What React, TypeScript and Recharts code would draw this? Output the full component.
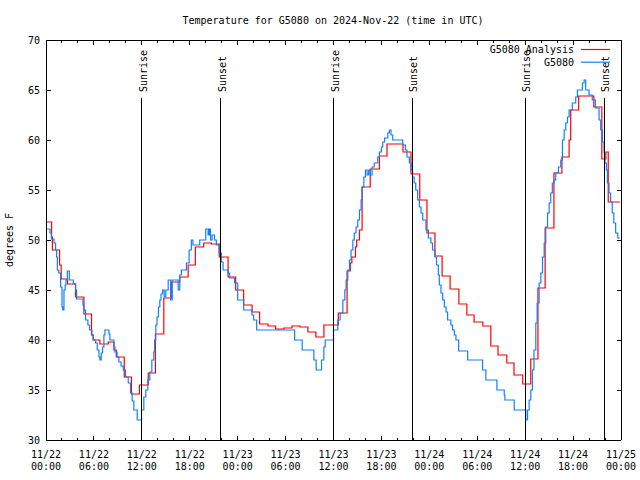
import React from 'react';
import { LineChart, Line, XAxis, YAxis, ReferenceLine, Legend } from 'recharts';

// hours since 2024-11-22 00:00 UTC, temperature (deg F)
const redReadings: [number, number][] = [
  [0, 51.8], [0.7, 50.3], [0.8, 49.0], [1.7, 47.5], [1.9, 46.1], [2.7, 45.6], [3.7, 44.3], [4.75, 42.6],
  [5.7, 40.5], [5.9, 40.0], [6.75, 39.6], [7.8, 39.8], [8.5, 39.0], [8.8, 38.3], [9.8, 36.3], [10.7, 34.6],
  [11.7, 35.5], [12.8, 36.7], [13.7, 40.6], [14.75, 44.2], [15.75, 45.8], [16.75, 46.3], [17.8, 47.5],
  [18.7, 49.3], [19.75, 49.7], [20.7, 49.6], [21.7, 48.3], [22.8, 46.3], [23.75, 45.0], [24.75, 43.5],
  [25.8, 42.8], [26.75, 41.6], [27.8, 41.4], [28.75, 41.1], [29.8, 41.2], [30.8, 41.4], [31.8, 41.3],
  [32.8, 40.8], [33.8, 40.3], [34.8, 41.5], [36.6, 42.7], [37.7, 46.9], [38.1, 47.7], [38.3, 48.3],
  [38.75, 49.3], [38.9, 50.0], [39.25, 51.0], [39.58, 55.3], [40.6, 57.1], [41.75, 58.4], [42.7, 59.6],
  [44.7, 58.8], [45.7, 56.6], [46.8, 54.0], [47.7, 50.7], [48.7, 48.4], [49.6, 46.4], [50.6, 45.1],
  [51.7, 43.6], [52.7, 42.5], [53.6, 41.8], [54.7, 41.4], [55.7, 39.4], [56.6, 38.5], [57.7, 37.7],
  [58.6, 36.5], [59.7, 35.6], [60.7, 38.1], [61.6, 45.2], [62.5, 51.2], [63.6, 56.7], [64.6, 58.3],
  [65.5, 60.0], [65.7, 63.0], [66.7, 64.4], [68.6, 63.3], [69.6, 58.1], [70.1, 58.8], [70.4, 53.8],
  [71.85, 53.8],
];

const blueReadings: [number, number][] = [
  [0, 51.1], [0.5, 50.7], [0.67, 50.1], [1.0, 49.7], [1.2, 49.0], [1.33, 48.3], [1.42, 47.0], [1.6, 46.7],
  [1.83, 45.3], [2.0, 43.3], [2.1, 43.0], [2.25, 45.0], [2.4, 45.5], [2.5, 46.0], [2.67, 46.9], [2.92, 46.0],
  [3.42, 45.6], [3.71, 45.0], [3.83, 44.1], [4.63, 43.5], [4.75, 43.0], [4.96, 42.0], [5.25, 41.5],
  [5.46, 41.0], [5.75, 40.5], [5.92, 40.0], [6.21, 39.7], [6.42, 39.0], [6.63, 38.3], [6.75, 38.0],
  [6.92, 38.7], [7.08, 39.3], [7.25, 40.5], [7.38, 41.0], [7.88, 40.6], [8.0, 40.0], [8.5, 39.3],
  [8.63, 38.8], [8.9, 38.3], [9.13, 37.8], [9.4, 37.4], [9.67, 37.0], [9.96, 36.3], [10.3, 35.7],
  [10.58, 34.7], [10.79, 33.9], [11.0, 33.0], [11.42, 32.0], [11.96, 33.0], [12.25, 34.3], [12.5, 35.0],
  [12.75, 36.0], [13.0, 36.8], [13.25, 38.0], [13.5, 38.8], [13.6, 40.0], [13.75, 41.5], [13.9, 42.3],
  [14.08, 43.3], [14.25, 44.0], [14.4, 44.6], [14.6, 45.0], [14.8, 44.3], [15.0, 45.0], [15.3, 46.0],
  [15.6, 44.0], [15.8, 46.0], [16.55, 45.0], [16.75, 46.5], [16.96, 47.0], [17.58, 47.7], [17.92, 49.0],
  [18.2, 50.0], [18.4, 49.5], [19.25, 50.0], [20.0, 51.1], [20.3, 50.5], [20.45, 51.1], [20.6, 50.0],
  [20.8, 50.5], [21.1, 50.0], [21.33, 49.5], [21.67, 48.7], [21.96, 47.8], [22.17, 47.0], [22.8, 46.7],
  [23.0, 46.2], [23.6, 45.7], [24.0, 44.0], [24.75, 43.0], [25.79, 42.5], [26.0, 42.0], [26.38, 41.0],
  [31.13, 40.0], [32.08, 39.0], [33.54, 38.0], [33.83, 37.0], [34.5, 38.0], [34.79, 39.3], [34.96, 40.0],
  [36.0, 41.0], [36.54, 42.0], [36.83, 42.7], [37.17, 44.0], [37.42, 45.0], [37.58, 46.0], [37.79, 47.0],
  [38.0, 48.0], [38.2, 49.0], [38.42, 50.0], [38.6, 50.7], [38.83, 51.3], [39.04, 52.0], [39.25, 53.0],
  [39.46, 54.0], [39.58, 55.3], [39.8, 56.3], [40.0, 57.0], [40.2, 56.5], [40.4, 57.0], [40.6, 56.5],
  [40.83, 57.3], [41.1, 57.7], [41.54, 58.3], [41.75, 58.8], [42.0, 59.3], [42.17, 59.8], [42.4, 60.2],
  [42.8, 60.7], [43.0, 61.0], [43.2, 60.5], [43.42, 60.0], [44.67, 59.5], [45.0, 59.0], [45.2, 58.3],
  [45.5, 57.7], [45.7, 57.0], [45.9, 56.3], [46.1, 55.7], [46.3, 55.0], [46.54, 54.0], [46.75, 53.3],
  [46.96, 52.7], [47.17, 52.0], [47.58, 51.0], [47.88, 50.2], [48.2, 49.7], [48.4, 49.0], [48.7, 48.3],
  [48.9, 47.5], [49.13, 46.5], [49.25, 45.5], [49.46, 44.7], [49.67, 44.0], [49.88, 43.3], [50.1, 42.8],
  [50.29, 42.0], [50.7, 41.5], [50.9, 41.0], [51.13, 40.5], [51.33, 40.0], [51.67, 38.9], [52.8, 38.0],
  [54.67, 37.0], [55.08, 36.0], [56.46, 35.0], [57.38, 34.5], [57.46, 34.0], [58.63, 33.0], [60.08, 32.0],
  [60.3, 33.0], [60.5, 34.0], [60.7, 35.0], [60.9, 37.0], [61.1, 39.0], [61.33, 41.7], [61.5, 43.7],
  [61.75, 45.7], [61.96, 46.7], [62.17, 48.3], [62.38, 49.7], [62.58, 51.3], [62.8, 52.7], [63.0, 53.7],
  [63.2, 54.7], [63.4, 55.7], [63.63, 56.0], [63.83, 56.7], [64.17, 57.3], [64.46, 58.0], [64.67, 60.0],
  [64.88, 61.0], [65.08, 61.7], [65.3, 62.3], [65.5, 63.0], [65.9, 63.7], [66.33, 64.3], [66.54, 65.0],
  [67.17, 65.7], [67.38, 66.0], [67.58, 65.0], [68.0, 64.5], [68.4, 64.0], [68.8, 63.2], [69.25, 62.0],
  [69.46, 61.0], [69.67, 59.8], [69.88, 58.7], [70.0, 57.7], [70.17, 57.0], [70.3, 55.7], [70.5, 54.7],
  [70.7, 53.8], [70.9, 52.7], [71.1, 51.7], [71.33, 50.7], [71.6, 50.2], [71.85, 50.2],
];

const xTickHours = [0, 2, 4, 6, 8, 10, 12, 14, 16, 18, 20, 22, 24, 26, 28, 30, 32, 34, 36, 38, 40, 42, 44, 46, 48, 50, 52, 54, 56, 58, 60, 62, 64, 66, 68, 70, 72];
const xMajorDates = ['11/22', '11/22', '11/22', '11/22', '11/23', '11/23', '11/23', '11/23', '11/24', '11/24', '11/24', '11/24', '11/25'];
const xMajorTimes = ['00:00', '06:00', '12:00', '18:00', '00:00', '06:00', '12:00', '18:00', '00:00', '06:00', '12:00', '18:00', '00:00'];
const yTicks = [30, 35, 40, 45, 50, 55, 60, 65, 70];
const sunHours = [12.0, 21.875, 36.0, 45.875, 60.0, 69.875];
const sunLabels = ['Sunrise', 'Sunset', 'Sunrise', 'Sunset', 'Sunrise', 'Sunset'];
const seriesNames = ['G5080 Analysis', 'G5080'];
const seriesColors = ['#ff0000', '#1080ff'];
const titleText = 'Temperature for G5080 on 2024-Nov-22 (time in UTC)';
const yLabelText = 'degrees F';

const redData = redReadings.map(([h, v]) => ({ h, v }));
const blueData = blueReadings.map(([h, v]) => ({ h, v }));

const FONT = '"DejaVu Sans Mono", "Liberation Mono", monospace';
const SUN_TOP = 64.2;

const BottomTick = (props: any) => {
  const { x, y, payload } = props;
  const idx = payload.value / 6;
  const major = Number.isInteger(idx);
  return (
    <g>
      <line x1={x} y1={y} x2={x} y2={y - (major ? 4.5 : 2.5)} stroke="#000" shapeRendering="crispEdges" />
      {major && (
        <text x={x} y={y + 18} textAnchor="middle" fontSize={10} fontFamily={FONT} fill="#000">
          {xMajorDates[idx]}
        </text>
      )}
      {major && (
        <text x={x} y={y + 30} textAnchor="middle" fontSize={10} fontFamily={FONT} fill="#000">
          {xMajorTimes[idx]}
        </text>
      )}
    </g>
  );
};

const TopTick = (props: any) => {
  const { x, y, payload } = props;
  const major = Number.isInteger(payload.value / 6);
  return <line x1={x} y1={y} x2={x} y2={y + (major ? 4.5 : 2.5)} stroke="#000" shapeRendering="crispEdges" />;
};

const LeftTick = (props: any) => {
  const { x, y, payload } = props;
  return (
    <g>
      <line x1={x} y1={y} x2={x + 4.5} y2={y} stroke="#000" shapeRendering="crispEdges" />
      <text x={x - 6} y={y + 4} textAnchor="end" fontSize={10} fontFamily={FONT} fill="#000">
        {payload.value}
      </text>
    </g>
  );
};

const RightTick = (props: any) => {
  const { x, y } = props;
  return <line x1={x} y1={y} x2={x - 4.5} y2={y} stroke="#000" shapeRendering="crispEdges" />;
};

const SunLabel = ({ viewBox, text }: any) => {
  if (!viewBox) return null;
  const tx = viewBox.x + 5;
  const ty = viewBox.y - 6;
  return (
    <text x={tx} y={ty} transform={`rotate(-90 ${tx} ${ty})`} fontSize={10} fontFamily={FONT} fill="#000">
      {text}
    </text>
  );
};

const LegendBox = () => (
  <svg width={141} height={30} style={{ display: 'block' }}>
    {seriesNames.map((name, i) => (
      <g key={name}>
        <text x={94} y={13 + i * 12.7} textAnchor="end" fontSize={10} fontFamily={FONT} fill="#000">
          {name}
        </text>
        <line x1={101} y1={9.5 + i * 12.7} x2={130} y2={9.5 + i * 12.7} stroke={seriesColors[i]} strokeWidth={1.2} />
      </g>
    ))}
  </svg>
);

export default function App() {
  return (
    <div style={{ position: 'absolute', left: 0, top: 0, width: 640, height: 480, background: '#fff' }}>
      <LineChart width={640} height={480} margin={{ top: 39, right: 18, bottom: 0, left: 0 }}>
        <XAxis
          type="number"
          dataKey="h"
          domain={[0, 72]}
          ticks={xTickHours}
          interval={0}
          tickSize={0}
          tickMargin={0}
          height={40}
          allowDataOverflow
          axisLine={{ stroke: '#000', shapeRendering: 'crispEdges' }}
          tickLine={false}
          tick={(p: any) => <BottomTick {...p} />}
        />
        <XAxis
          xAxisId="top"
          orientation="top"
          type="number"
          dataKey="h"
          domain={[0, 72]}
          ticks={xTickHours}
          interval={0}
          tickSize={0}
          tickMargin={0}
          height={1}
          allowDataOverflow
          axisLine={{ stroke: '#000', shapeRendering: 'crispEdges' }}
          tickLine={false}
          tick={(p: any) => <TopTick {...p} />}
        />
        <YAxis
          type="number"
          domain={[30, 70]}
          ticks={yTicks}
          interval={0}
          tickSize={0}
          tickMargin={0}
          width={46}
          allowDataOverflow
          axisLine={{ stroke: '#000', shapeRendering: 'crispEdges' }}
          tickLine={false}
          tick={(p: any) => <LeftTick {...p} />}
        />
        <YAxis
          yAxisId="right"
          orientation="right"
          type="number"
          domain={[30, 70]}
          ticks={yTicks}
          interval={0}
          tickSize={0}
          tickMargin={0}
          width={1}
          allowDataOverflow
          axisLine={{ stroke: '#000', shapeRendering: 'crispEdges' }}
          tickLine={false}
          tick={(p: any) => <RightTick {...p} />}
        />
        <Line
          data={redData}
          dataKey="v"
          name={seriesNames[0]}
          type="stepAfter"
          stroke={seriesColors[0]}
          strokeWidth={1.2}
          dot={false}
          activeDot={false}
          isAnimationActive={false}
        />
        <Line
          data={blueData}
          dataKey="v"
          name={seriesNames[1]}
          type="stepAfter"
          stroke={seriesColors[1]}
          strokeWidth={1.2}
          dot={false}
          activeDot={false}
          isAnimationActive={false}
        />
        {sunHours.map((h, i) => (
          <ReferenceLine
            key={`sun-${i}`}
            segment={[{ x: h, y: 30 }, { x: h, y: SUN_TOP }]}
            stroke="#000"
            strokeWidth={1}
            shapeRendering="crispEdges"
            label={(p: any) => <SunLabel viewBox={p.viewBox} text={sunLabels[i]} />}
          />
        ))}
        <Legend
          layout="vertical"
          align="center"
          verticalAlign="middle"
          content={() => <LegendBox />}
          wrapperStyle={{ position: 'absolute', left: 480, top: 40, width: 141, height: 30 }}
        />
      </LineChart>
      <svg width={640} height={480} style={{ position: 'absolute', left: 0, top: 0, pointerEvents: 'none' }}>
        <text x={333} y={24} textAnchor="middle" fontSize={10} fontFamily={FONT} fill="#000">
          {titleText}
        </text>
        <text x={13} y={240} textAnchor="middle" transform="rotate(-90 13 240)" fontSize={10} fontFamily={FONT} fill="#000">
          {yLabelText}
        </text>
      </svg>
    </div>
  );
}
